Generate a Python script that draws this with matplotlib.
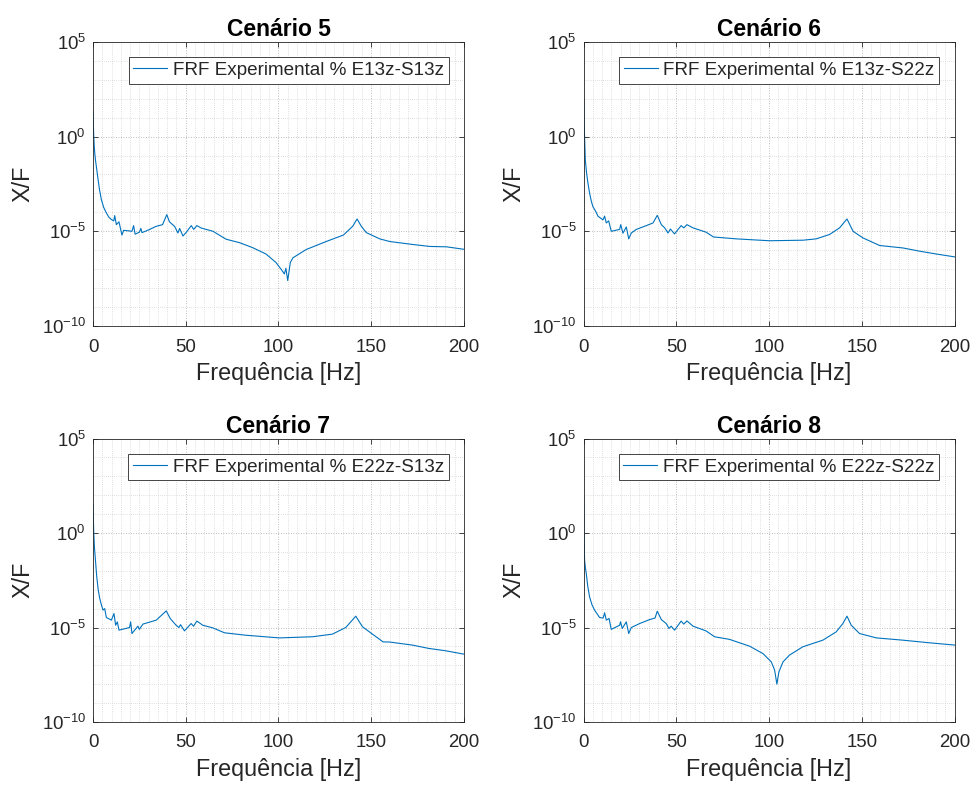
import numpy as np
import matplotlib
matplotlib.use("Agg")
import matplotlib.pyplot as plt
from matplotlib.ticker import FixedLocator, MultipleLocator, LogLocator, NullFormatter

plt.rcParams['font.family'] = ['Liberation Sans', 'DejaVu Sans']
plt.rcParams['mathtext.fontset'] = 'custom'
plt.rcParams['mathtext.rm'] = 'Liberation Sans'
plt.rcParams['mathtext.default'] = 'regular'

# FRF magnitude, stored as log10(X/F) at each frequency [Hz]
f5 = [0, 0.2, 0.4, 0.7, 1.0, 1.4, 1.8, 2.5, 3.5, 4.5, 5.8, 7.2, 8.5, 9.9, 11.2, 11.7, 12.6, 14.0,
      15.6, 16.5, 19.5, 21.0, 21.9, 22.7, 25.0, 25.8, 26.4, 28.7, 31.0, 34.0, 37.5, 39.8, 41.2,
      44.0, 45.8, 46.7, 48.5, 50.3, 53.0, 54.3, 56.0, 58.4, 64.7, 71.8, 79.0, 86.0, 93.3, 98.7,
      101.4, 103.2, 104.0, 105.0, 106.4, 107.8, 115.0, 126.0, 135.0, 140.0, 142.4, 144.7, 147.4,
      154.6, 160.0, 172.7, 181.6, 190.6, 200]
m5 = [1.35, 0.6, 0.0, -0.55, -0.95, -1.3, -1.58, -2.1, -2.8, -3.33, -3.75, -4.03, -4.25, -4.38,
      -4.45, -4.17, -4.65, -4.5, -5.2, -4.95, -4.98, -5.0, -4.7, -5.15, -5.05, -4.85, -5.07,
      -4.98, -4.88, -4.74, -4.65, -4.12, -4.5, -4.74, -5.09, -4.85, -5.25, -5.05, -4.7, -4.9,
      -4.7, -4.83, -5.0, -5.42, -5.6, -5.86, -6.2, -6.65, -7.0, -7.25, -6.95, -7.6, -6.65, -6.4,
      -5.96, -5.53, -5.2, -4.74, -4.35, -4.74, -5.07, -5.4, -5.54, -5.7, -5.8, -5.82, -5.95]

f6 = [0, 0.2, 0.5, 0.9, 1.5, 2.3, 3.2, 4.1, 5.0, 6.8, 7.7, 10.4, 11.3, 12.2, 13.5, 14.9, 19.4,
      20.0, 21.2, 23.0, 24.3, 25.7, 28.4, 33.8, 37.4, 39.7, 41.9, 43.7, 45.5, 46.8, 49.0, 52.6,
      54.0, 55.7, 59.0, 66.1, 70.0, 82.3, 100.3, 118.3, 125.4, 132.6, 138.0, 142.0, 145.3, 150.6,
      159.6, 172.2, 181.2, 190.2, 200]
m6 = [2.02, 0.9, 0.0, -1.23, -1.85, -2.45, -2.98, -3.4, -3.7, -4.0, -4.2, -4.4, -4.2, -4.56,
      -4.45, -5.0, -4.9, -4.65, -5.1, -4.77, -5.4, -5.09, -4.9, -4.7, -4.56, -4.16, -4.65, -4.82,
      -5.09, -4.88, -5.14, -4.7, -4.82, -4.65, -4.82, -5.05, -5.3, -5.4, -5.5, -5.47, -5.4,
      -5.17, -4.82, -4.35, -5.0, -5.35, -5.75, -5.88, -6.05, -6.2, -6.35]

f7 = [0, 0.2, 0.4, 0.8, 1.3, 2.0, 2.8, 3.6, 4.5, 5.4, 6.3, 7.2, 9.9, 11.3, 12.2, 13.1, 14.0, 19.7,
      20.3, 21.0, 24.2, 25.0, 26.9, 34.1, 39.5, 41.6, 44.8, 46.3, 47.2, 49.3, 52.9, 54.2, 56.0,
      59.2, 64.6, 70.9, 82.5, 100.4, 118.4, 129.1, 136.3, 141.7, 145.3, 150.7, 156.4, 160.0,
      172.2, 181.2, 190.1, 200]
m7 = [1.49, 0.7, 0.0, -0.8, -1.42, -2.3, -3.0, -3.45, -3.8, -4.08, -4.0, -4.47, -4.61, -4.26,
      -4.88, -4.7, -5.14, -5.0, -4.7, -5.32, -4.93, -5.1, -4.82, -4.61, -4.12, -4.52, -4.88,
      -5.0, -4.85, -5.18, -4.79, -4.93, -4.66, -4.88, -5.02, -5.28, -5.41, -5.55, -5.49, -5.35,
      -5.0, -4.4, -4.96, -5.35, -5.76, -5.77, -5.93, -6.11, -6.23, -6.41]

f8 = [0, 0.1, 0.2, 0.5, 0.9, 1.4, 2.2, 3.2, 4.5, 5.9, 8.6, 10.5, 11.3, 12.2, 13.7, 14.9, 19.4,
      19.9, 20.8, 23.0, 24.3, 25.7, 30.2, 35.6, 38.5, 39.7, 41.9, 44.5, 46.0, 47.2, 49.0, 52.6,
      54.0, 55.7, 59.0, 66.0, 70.6, 78.7, 89.5, 96.7, 101.2, 103.0, 104.2, 105.3, 107.5, 111.0,
      118.2, 129.0, 136.2, 139.8, 142.0, 144.3, 148.8, 157.8, 172.1, 186.5, 200]
m8 = [1.93, 0.9, 0.0, -1.42, -1.8, -2.14, -2.8, -3.38, -3.8, -4.08, -4.47, -4.5, -4.22, -4.61,
      -4.52, -5.1, -4.88, -4.7, -5.05, -4.7, -5.32, -5.0, -4.79, -4.58, -4.5, -4.14, -4.58,
      -4.79, -5.05, -4.93, -5.14, -4.66, -4.82, -4.65, -4.93, -5.18, -5.49, -5.63, -5.99,
      -6.38, -6.82, -7.26, -8.0, -7.35, -6.82, -6.46, -6.02, -5.67, -5.23, -4.79, -4.4, -4.88,
      -5.32, -5.55, -5.67, -5.81, -5.93]

titles = ['Cenário 5', 'Cenário 6', 'Cenário 7', 'Cenário 8']
labels = ['FRF Experimental % E13z-S13z', 'FRF Experimental % E13z-S22z',
          'FRF Experimental % E22z-S13z', 'FRF Experimental % E22z-S22z']
freqs = [f5, f6, f7, f8]
mags = [m5, m6, m7, m8]

# axes boxes [left, bottom, width, height] in figure fraction
boxes = [[0.0953, 0.5847, 0.380, 0.362], [0.598, 0.5847, 0.380, 0.362],
         [0.0953, 0.0803, 0.380, 0.3610], [0.598, 0.0803, 0.380, 0.3610]]

txt = '#262626'
blue = '#0072BD'

fig = plt.figure(figsize=(9.76, 7.85), dpi=100)
for i in range(4):
    ax = fig.add_axes(boxes[i])
    ax.semilogy(freqs[i], 10.0 ** np.array(mags[i]), color=blue, lw=0.8, label=labels[i])
    ax.set_xlim(0, 200)
    ax.set_ylim(1e-10, 1e5)
    ax.xaxis.set_major_locator(FixedLocator([0, 50, 100, 150, 200]))
    ax.xaxis.set_minor_locator(MultipleLocator(5))
    ax.yaxis.set_major_locator(FixedLocator([1e-10, 1e-5, 1e0, 1e5]))
    ax.yaxis.set_minor_locator(LogLocator(base=10, subs=(1.0,), numticks=40))
    ax.yaxis.set_minor_formatter(NullFormatter())
    ax.grid(True, which='major', color='#a8a8a8', lw=0.6, ls=(0, (1, 2)))
    ax.grid(True, which='minor', color='#c4c4c4', lw=0.5, ls=(0, (1, 2)))
    ax.set_axisbelow(True)
    ax.tick_params(which='major', direction='in', length=3.5, width=0.6, color=txt,
                   top=True, right=True, labelsize=13.4, labelcolor=txt)
    ax.tick_params(axis='x', which='major', pad=9)
    ax.tick_params(axis='y', which='major', pad=5)
    ax.tick_params(which='minor', length=0)
    for s in ax.spines.values():
        s.set_color(txt)
        s.set_linewidth(0.6)
    ax.set_title(titles[i], fontsize=16.5, fontweight='bold', color='black', pad=4)
    ax.set_xlabel('Frequência [Hz]', fontsize=16.8, color=txt, labelpad=5)
    ax.set_ylabel('X/F', fontsize=16.8, color=txt, labelpad=5)
    leg = ax.legend(loc='upper right', fontsize=13.6, fancybox=False, framealpha=1,
                    edgecolor=txt, borderpad=0.25, handletextpad=0.3, handlelength=1.8,
                    borderaxespad=0.8)
    leg.get_frame().set_linewidth(0.6)
    for t in leg.get_texts():
        t.set_color(txt)

fig.savefig('out.png', dpi=100)
